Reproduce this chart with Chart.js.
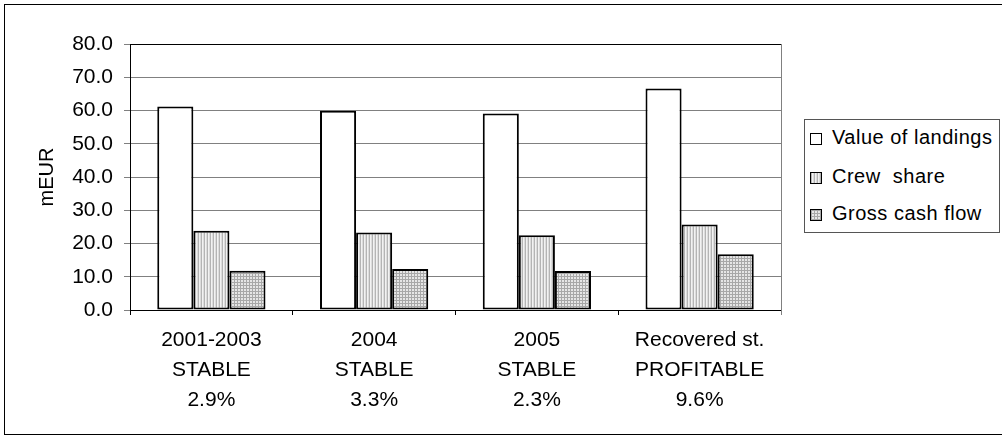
<!DOCTYPE html>
<html>
<head>
<meta charset="utf-8">
<script src="https://cdn.jsdelivr.net/npm/chart.js@4/dist/chart.umd.min.js"></script>
<style>
  html, body { margin: 0; padding: 0; background: #fff; overflow: hidden; }
  #wrap { position: relative; width: 1002px; height: 439px; }
  #frame { position: absolute; left: 4px; top: 4px; width: 1020px; height: 431px; border: 1px solid #000; box-sizing: border-box; pointer-events: none; }
  #legend { position: absolute; left: 804px; top: 119px; width: 196px; height: 114px; border: 1px solid #555; box-sizing: border-box; background: #fff;
            font: 20px "Liberation Sans", Arial, sans-serif; letter-spacing: 0.5px; color: #000; }
  .item { position: absolute; left: 5px; height: 20px; line-height: 20px; white-space: nowrap; }
  .sw { display: inline-block; width: 10px; height: 10px; border: 1px solid #000; margin-right: 10px; vertical-align: -1px; }
</style>
</head>
<body>
<div id="wrap">
  <canvas id="c" width="1002" height="439"></canvas>
  <div id="frame"></div>
  <div id="legend"></div>
</div>
<script>
// categories (multi-line labels) and series values, mEUR
const categories = [
  ['2001-2003', 'STABLE', '2.9%'],
  ['2004', 'STABLE', '3.3%'],
  ['2005', 'STABLE', '2.3%'],
  ['Recovered st.', 'PROFITABLE', '9.6%'],
];
const seriesNames = ['Value of landings', 'Crew  share', 'Gross cash flow'];
const valueOfLandings = [61.2, 59.9, 59.1, 66.6];
const crewShare = [23.8, 23.3, 22.5, 25.7];
const grossCashFlow = [11.8, 12.3, 11.7, 16.8];
const yTicks = [0, 10, 20, 30, 40, 50, 60, 70, 80];

const FONT = '"Liberation Sans", Arial, sans-serif';

// small tile patterns like the old Excel fills
function makeTile(w, h, paint) {
  const cv = document.createElement('canvas');
  cv.width = w; cv.height = h;
  const g = cv.getContext('2d');
  paint(g);
  return cv;
}
const stripeTile = makeTile(3, 1, g => {
  g.fillStyle = '#f2f2f2'; g.fillRect(0, 0, 3, 1);
  g.fillStyle = '#b4b4b4'; g.fillRect(0, 0, 1, 1);
  g.fillStyle = '#dcdcdc'; g.fillRect(2, 0, 1, 1);
});
const gridTile = makeTile(3, 3, g => {
  g.fillStyle = '#e6e6e6'; g.fillRect(0, 0, 3, 3);
  g.fillStyle = '#a8a8a8'; g.fillRect(0, 0, 3, 1); g.fillRect(0, 0, 1, 3);
});
const ctx = document.getElementById('c').getContext('2d');
const fills = ['#ffffff', ctx.createPattern(stripeTile, 'repeat'), ctx.createPattern(gridTile, 'repeat')];
const swatchBg = ['#ffffff', 'url(' + stripeTile.toDataURL() + ')', 'url(' + gridTile.toDataURL() + ')'];

// legend as html, boxed like the original
const legend = document.getElementById('legend');
const legendTops = [7, 46, 83];
seriesNames.forEach((name, i) => {
  const it = document.createElement('div');
  it.className = 'item';
  it.style.top = legendTops[i] + 'px';
  it.innerHTML = '<span class="sw" style="background:' + swatchBg[i] + '"></span>' + name.replace(/  /g, '&nbsp; ');
  legend.appendChild(it);
});

// right border of the plot area
const plotFrame = {
  id: 'plotFrame',
  afterDraw(chart) {
    const a = chart.chartArea, g = chart.ctx;
    g.save();
    g.strokeStyle = '#808080'; g.lineWidth = 1;
    g.beginPath(); g.moveTo(a.right + 0.5, a.top); g.lineTo(a.right + 0.5, a.bottom + 5); g.stroke();
    g.restore();
  }
};

const datasetDefs = [valueOfLandings, crewShare, grossCashFlow].map((data, i) => ({
  label: seriesNames[i],
  data: data,
  backgroundColor: fills[i],
  borderColor: '#000',
  borderWidth: 2,
  borderSkipped: false,
  categoryPercentage: 0.665,
  barPercentage: 1.0,
}));

new Chart(ctx, {
  type: 'bar',
  data: { labels: categories, datasets: datasetDefs },
  plugins: [plotFrame],
  options: {
    responsive: false,
    animation: false,
    devicePixelRatio: 1,
    layout: { padding: { left: 0, right: 221, top: 44, bottom: 0 } },
    plugins: { legend: { display: false }, tooltip: { enabled: false } },
    scales: {
      x: {
        afterFit: s => { s.height = 129; },
        grid: { offset: true, drawOnChartArea: false, tickLength: 5, color: '#000' },
        border: { color: '#000', width: 1 },
        ticks: { color: '#000', font: { family: FONT, size: 21, lineHeight: 1.43 }, padding: 10, maxRotation: 0, autoSkip: false },
      },
      y: {
        min: 0, max: 80,
        afterFit: s => { s.width = 130; },
        afterBuildTicks: s => { s.ticks = yTicks.map(v => ({ value: v })); },
        grid: {
          color: c => (c.tick && c.tick.value === 80 ? '#000' : '#808080'),
          tickLength: 6,
          tickColor: '#808080',
        },
        border: { color: '#000', width: 1 },
        ticks: { color: '#000', font: { family: FONT, size: 21 }, padding: 11, callback: v => Number(v).toFixed(1) },
        title: { display: true, text: 'mEUR', color: '#000', font: { family: FONT, size: 20 }, padding: { top: 35, bottom: 0 } },
      },
    },
  },
});
</script>
</body>
</html>
